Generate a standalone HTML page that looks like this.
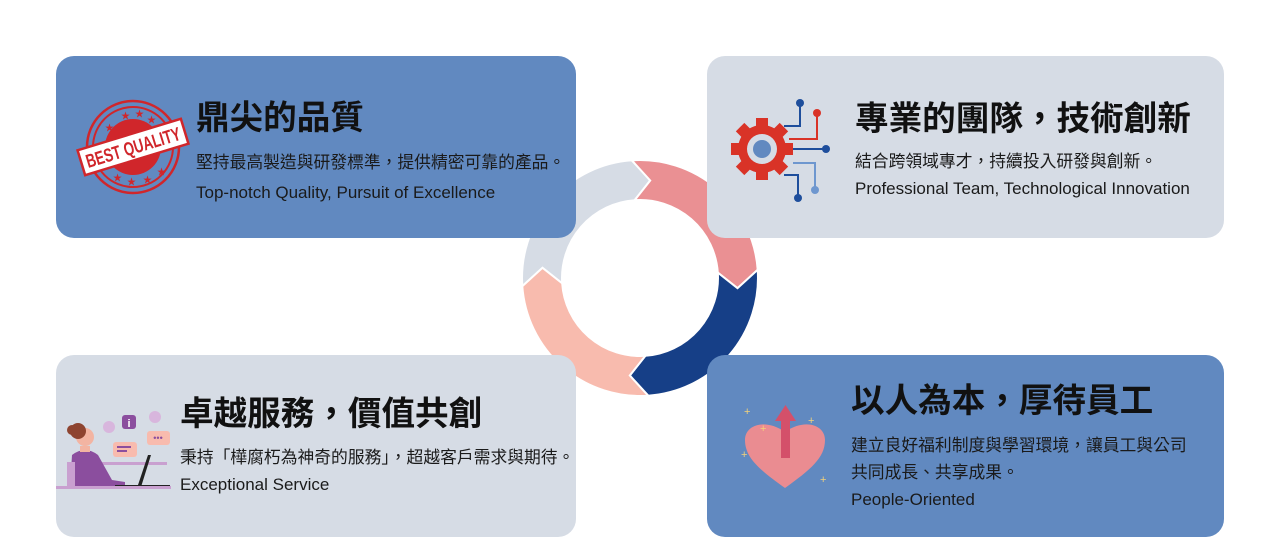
<!DOCTYPE html>
<html><head><meta charset="utf-8">
<style>
html,body{margin:0;padding:0;background:#fff;}
#w{position:relative;width:1280px;height:557px;overflow:hidden;font-family:"Liberation Sans","Noto Sans CJK TC",sans-serif;color:#111;}
.card{position:absolute;border-radius:18px;}
.b{background:#6189C0;}
.g{background:#D6DCE5;}
.t{position:absolute;font-size:33.6px;font-weight:bold;line-height:40px;white-space:nowrap;font-family:"Liberation Sans","Noto Sans CJK TC",sans-serif;}
.s{position:absolute;font-size:16.8px;line-height:20px;white-space:nowrap;color:#1a1a1a;}
.e{font-size:17px;}
svg{position:absolute;left:0;top:0;}
</style></head><body>
<div id="w">
<svg width="1280" height="557" id="ring"></svg>
<div class="card b" style="left:56px;top:56px;width:520px;height:182px"></div>
<div class="card g" style="left:707px;top:56px;width:517px;height:182px"></div>
<div class="card g" style="left:56px;top:355px;width:520px;height:182px"></div>
<div class="card b" style="left:707px;top:355px;width:517px;height:182px"></div>

<svg width="1280" height="557">
 <g transform="translate(133,147)">
  <circle r="46" fill="none" stroke="#D0262B" stroke-width="2.5"/>
  <circle r="40" fill="none" stroke="#D0262B" stroke-width="2"/>
  <circle r="28" fill="#D0262B"/>
  <g fill="#D0262B" font-size="9">
   <text x="-12" y="-28">★</text><text x="2" y="-30">★</text><text x="14" y="-24">★</text>
   <text x="-28" y="-16">★</text><text x="-20" y="34">★</text><text x="-6" y="38">★</text><text x="10" y="36">★</text><text x="24" y="28">★</text>
  </g>
  <g transform="rotate(-17)">
   <rect x="-54" y="-13" width="108" height="26" fill="#fff" stroke="#D0262B" stroke-width="2.5"/>
   <text x="0" y="7" text-anchor="middle" font-size="19" font-weight="bold" fill="#D0262B" font-family="Liberation Sans Narrow,Liberation Sans,sans-serif" textLength="98" lengthAdjust="spacingAndGlyphs">BEST QUALITY</text>
  </g>
 </g>
 <g transform="translate(762,149)">
  <g fill="#D93327">
   <circle r="24"/>
   <rect x="-6" y="-31" width="12" height="62"/>
   <rect x="-6" y="-31" width="12" height="62" transform="rotate(45)"/>
   <rect x="-6" y="-31" width="12" height="62" transform="rotate(90)"/>
   <rect x="-6" y="-31" width="12" height="62" transform="rotate(135)"/>
  </g>
  <circle r="15" fill="#D6DCE5"/>
  <circle r="9" fill="#6189C0"/>
 </g>
 <g fill="none" stroke-width="2">
  <path d="M784 126 H800 V104" stroke="#1E4E9C"/>
  <path d="M789 139 H817 V113" stroke="#D93327"/>
  <path d="M793 149 H824" stroke="#1E4E9C"/>
  <path d="M793 163 H815 V190" stroke="#6E97CF"/>
  <path d="M784 175 H798 V197" stroke="#1E4E9C"/>
 </g>
 <circle cx="800" cy="103" r="4" fill="#1E4E9C"/>
 <circle cx="817" cy="113" r="4" fill="#D93327"/>
 <circle cx="826" cy="149" r="4" fill="#1E4E9C"/>
 <circle cx="815" cy="190" r="4" fill="#6E97CF"/>
 <circle cx="798" cy="198" r="4" fill="#1E4E9C"/>
 <g>
  <rect x="67" y="462" width="100" height="3" fill="#C9A0D0"/>
  <path d="M70 488 L72 455 Q85 445 98 455 L112 480 L125 482 L125 488 Z" fill="#8B4E9E"/>
  <rect x="67" y="462" width="8" height="26" fill="#C9A0D0"/>
  <circle cx="85" cy="437" r="9" fill="#F3B4A2"/>
  <circle cx="78" cy="431" r="8" fill="#8E4430"/>
  <circle cx="72" cy="430" r="5" fill="#8E4430"/>
  <rect x="80" y="446" width="10" height="6" fill="#F3B4A2"/>
  <path d="M138 485 L148 455 L151 455 L141 487 Z" fill="#222"/>
  <rect x="115" y="485" width="55" height="2" fill="#222"/>
  <rect x="56" y="486" width="115" height="3" fill="#C9A0D0"/>
  <rect x="122" y="415" width="14" height="14" rx="3" fill="#8B4E9E"/>
  <text x="129" y="427" text-anchor="middle" font-size="11" font-weight="bold" fill="#fff">i</text>
  <rect x="147" y="431" width="23" height="14" rx="3" fill="#F8BBAE"/>
  <text x="158" y="441" text-anchor="middle" font-size="9" fill="#8B4E9E">•••</text>
  <rect x="113" y="442" width="24" height="15" rx="3" fill="#F8BBAE"/>
  <rect x="117" y="446" width="14" height="2" fill="#8B4E9E"/><rect x="117" y="450" width="10" height="2" fill="#8B4E9E"/>
  <circle cx="109" cy="427" r="6" fill="#D8B6DD"/>
  <circle cx="155" cy="417" r="6" fill="#D8B6DD"/>
 </g>
 <g>
  <path d="M785 488 C760 470 745 458 745 440 C745 425 765 418 785 432 C805 418 825 425 825 440 C825 458 810 470 785 488 Z" fill="#EA8C91"/>
  <rect x="781" y="420" width="9" height="38" fill="#D4506A"/>
  <path d="M775 421 L785.5 405 L796 421 Z" fill="#D4506A"/>
  <g fill="#F3D27A" font-size="11"><text x="744" y="415">+</text><text x="760" y="432">+</text><text x="808" y="424">+</text><text x="741" y="458">+</text><text x="820" y="483">+</text></g>
 </g>
</svg>

<div class="t" style="left:196px;top:99px">鼎尖的品質</div>
<div class="s" style="left:196px;top:153px">堅持最高製造與研發標準，提供精密可靠的產品。</div>
<div class="s e" style="left:196px;top:183px">Top-notch Quality, Pursuit of Excellence</div>

<div class="t" style="left:855px;top:100px">專業的團隊，技術創新</div>
<div class="s" style="left:855px;top:152px">結合跨領域專才，持續投入研發與創新。</div>
<div class="s e" style="left:855px;top:179px">Professional Team, Technological Innovation</div>

<div class="t" style="left:180px;top:395px">卓越服務，價值共創</div>
<div class="s" style="left:180px;top:448px">秉持「樺腐朽為神奇的服務」，超越客戶需求與期待。</div>
<div class="s e" style="left:180px;top:475px">Exceptional Service</div>

<div class="t" style="left:851px;top:382px">以人為本，厚待員工</div>
<div class="s" style="left:851px;top:436px">建立良好福利制度與學習環境，讓員工與公司</div>
<div class="s" style="left:851px;top:463px">共同成長、共享成果。</div>
<div class="s e" style="left:851px;top:490px">People-Oriented</div>
</div>
<script>
(function(){
 var cx=640,cy=278,R=118,r=78,m=98,d=10;
 function p(a,rad){var t=a*Math.PI/180;return (cx+rad*Math.cos(t)).toFixed(1)+" "+(cy+rad*Math.sin(t)).toFixed(1);}
 var segs=[[176,266,"#D6DCE5"],[-94,-4,"#EA9093"],[-4,86,"#163F87"],[86,176,"#F8BBAE"]];
 var s="";
 segs.forEach(function(g){
  var a0=g[0],a1=g[1];
  var dstr="M"+p(a0,R)+" A"+R+" "+R+" 0 0 1 "+p(a1,R)+" L"+p(a1+d,m)+" L"+p(a1,r)+" A"+r+" "+r+" 0 0 0 "+p(a0,r)+" L"+p(a0+d,m)+" Z";
  s+='<path d="'+dstr+'" fill="'+g[2]+'" stroke="#fff" stroke-width="2"/>';
 });
 document.getElementById("ring").innerHTML=s;
})();
</script>
</body></html>
